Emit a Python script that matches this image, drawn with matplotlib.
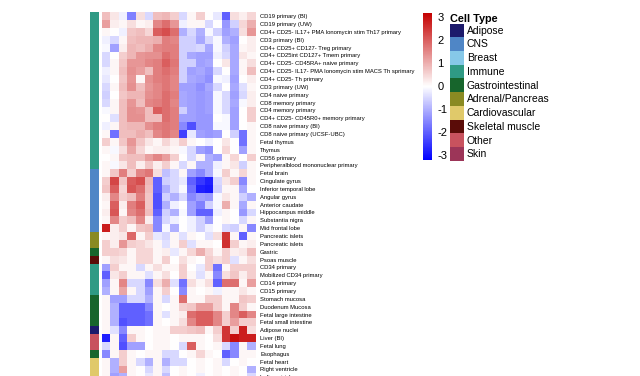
import matplotlib
matplotlib.use("Agg")
import matplotlib.pyplot as plt
import numpy as np
from matplotlib.colors import LinearSegmentedColormap, ListedColormap
from matplotlib.patches import Patch

plt.rcParams["font.family"] = ["Liberation Sans", "DejaVu Sans"]
plt.rcParams["axes.unicode_minus"] = False

row_labels = [
    "CD19 primary (BI)",
    "CD19 primary (UW)",
    "CD4+ CD25- IL17+ PMA Ionomycin stim Th17 primary",
    "CD3 primary (BI)",
    "CD4+ CD25+ CD127- Treg primary",
    "CD4+ CD25int CD127+ Tmem primary",
    "CD4+ CD25- CD45RA+ naive primary",
    "CD4+ CD25- IL17- PMA Ionomycin stim MACS Th sprimary",
    "CD4+ CD25- Th primary",
    "CD3 primary (UW)",
    "CD4 naive primary",
    "CD8 memory primary",
    "CD4 memory primary",
    "CD4+ CD25- CD45R0+ memory primary",
    "CD8 naive primary (BI)",
    "CD8 naive primary (UCSF-UBC)",
    "Fetal thymus",
    "Thymus",
    "CD56 primary",
    "Peripheralblood mononuclear primary",
    "Fetal brain",
    "Cingulate gyrus",
    "Inferior temporal lobe",
    "Angular gyrus",
    "Anterior caudate",
    "Hippocampus middle",
    "Substantia nigra",
    "Mid frontal lobe",
    "Pancreatic islets",
    "Pancreatic islets",
    "Gastric",
    "Psoas muscle",
    "CD34 primary",
    "Mobilized CD34 primary",
    "CD14 primary",
    "CD15 primary",
    "Stomach mucosa",
    "Duodenum Mucosa",
    "Fetal large intestine",
    "Fetal small intestine",
    "Adipose nuclei",
    "Liver (BI)",
    "Fetal lung",
    "Esophagus",
    "Fetal heart",
    "Right ventricle",
    "Left ventricle",
]

type_names = ["Adipose", "CNS", "Breast", "Immune", "Gastrointestinal",
              "Adrenal/Pancreas", "Cardiovascular", "Skeletal muscle", "Other", "Skin"]
type_colors = ["#1c1a6b", "#4f86c6", "#86c8e8", "#2f9a84", "#17652c",
               "#8a8a22", "#e0c96a", "#5a0c08", "#c8525e", "#9c3558"]

# cell type index (into type_names) for every row
row_types = [3] * 20 + [1] * 8 + [5, 5, 4, 7, 3, 3, 3, 3, 4, 4, 4, 4, 0, 8, 8, 4, 6, 6, 6]

values = np.array([
    [0.8, 0.3, -0.2, -1.6, 0.4, -0.5, 0.8, 0.9, 0.6, -0.5, 0.1, 0.6, 0.0, -0.3, -2.0, 0.4, 0.2, 0.5],
    [1.2, 0.2, 0.1, 0.4, 0.1, 0.2, 1.5, 1.8, 1.3, -0.2, 0.1, 0.1, -0.5, 0.0, -1.3, -0.6, 0.5, 1.0],
    [0.1, 0.0, -0.2, 0.7, 0.8, 0.5, 2.0, 2.2, 1.8, -1.0, -0.5, -1.0, -0.1, -0.6, -1.2, -1.0, 0.4, 1.3],
    [-0.2, -0.5, 0.1, 0.8, 0.9, 0.9, 1.0, 1.6, 1.5, -0.6, -0.6, -1.1, -0.5, -0.1, -1.0, -1.2, 0.0, 0.2],
    [-0.1, -1.2, 0.2, 0.9, 0.8, 1.0, 1.5, 1.6, 1.6, -0.6, -0.6, -0.5, -1.1, -0.1, -0.6, -1.1, 0.1, 0.2],
    [-0.5, 0.0, 0.6, 0.9, 1.3, 1.4, 1.4, 1.8, 1.6, -0.6, -1.1, -1.2, -1.2, -0.2, -0.5, -1.1, 0.3, 0.1],
    [-0.5, 0.1, 0.7, 1.3, 1.3, 1.5, 1.6, 2.0, 1.7, -0.6, -0.6, -1.2, -1.1, 0.0, 0.3, -1.1, 0.1, 0.4],
    [-0.2, 0.1, 0.8, 1.4, 1.2, 0.8, 1.6, 1.8, 1.6, -0.6, -1.2, -1.1, -1.3, -0.5, 0.0, -1.1, 0.1, 0.8],
    [-0.3, 0.0, 0.7, 1.3, 0.1, 1.4, 1.6, 1.7, 1.5, -0.6, -1.1, -1.2, -1.4, -0.1, -0.2, -1.2, 0.0, 0.2],
    [-0.5, 0.1, 0.8, 1.4, 0.8, 1.3, 1.5, 1.7, 1.5, -1.2, -1.2, -1.4, -1.1, -0.5, 0.0, -1.1, -0.4, 0.1],
    [-0.6, 0.0, 0.7, 0.9, 0.9, 1.4, 1.5, 1.8, 1.6, -1.1, -1.2, -1.3, -1.2, -0.1, -0.5, -1.2, -0.5, 0.2],
    [-0.5, 0.1, 0.8, 1.3, 0.8, 1.5, 1.6, 1.8, 1.5, -1.1, -1.2, -1.3, -1.2, -0.1, -0.5, -1.1, -0.1, 0.2],
    [-0.1, 0.1, 0.8, 1.4, 1.3, 0.8, 2.0, 1.8, 1.6, -0.6, -1.2, -1.3, -1.2, -0.1, -0.5, -1.2, 0.0, 0.6],
    [0.0, -0.4, 0.8, 1.4, 1.4, 0.8, 0.8, 1.8, 1.6, -1.2, -1.2, -1.3, -1.3, 0.0, -0.1, -1.2, 0.0, 0.6],
    [-0.2, 0.1, 0.8, 0.9, 0.9, 1.4, 1.6, 1.7, 1.6, -1.5, -2.2, -1.3, -1.3, -0.1, -0.1, -1.2, 0.0, 0.1],
    [0.1, -1.8, 0.8, 0.8, 1.0, 0.8, 1.5, 1.7, 1.5, -2.4, -0.3, -1.2, -1.3, -1.2, 0.0, -0.6, -1.8, 0.1],
    [0.6, 0.1, 0.7, 1.3, 0.7, 0.3, 0.1, 0.5, 0.2, 0.6, 0.1, 0.0, -0.2, 0.0, 0.3, 0.0, -1.8, 0.1],
    [0.1, -0.1, 0.4, 1.1, 0.5, 0.1, 0.2, 0.2, 0.1, -0.1, -0.5, -1.2, -1.4, 0.0, 0.5, 0.0, -1.2, 0.1],
    [0.0, 0.1, 0.7, 0.8, 0.8, 1.2, 1.5, 1.2, 0.6, 0.0, -0.5, 0.1, -1.0, -1.2, 0.1, 0.5, 0.0, 0.6],
    [0.1, -0.1, 0.3, 0.8, 0.2, 0.7, 0.2, 0.6, 0.1, -0.5, 0.1, -1.0, -1.0, -0.2, 0.1, 0.3, -0.6, 0.1],
    [0.1, 0.7, 1.6, 0.6, 1.5, 1.7, 0.4, -0.8, -0.5, 0.1, -1.2, -1.5, -1.0, -0.1, 0.6, 0.1, 0.5, 0.1],
    [0.6, 2.3, 0.7, 2.0, 2.2, 0.9, -2.0, -0.6, -0.5, -0.3, -2.0, -2.5, -2.8, -0.5, 0.3, 0.6, -1.5, 0.1],
    [0.7, 2.0, 0.5, 2.1, 1.8, 0.8, -2.0, -1.0, -0.5, -0.1, -1.8, -2.8, -2.9, -0.6, 0.1, 0.1, -1.1, 0.0],
    [0.2, 1.5, 0.6, 0.8, 1.6, 0.7, -2.2, -0.6, -1.0, -0.5, -1.5, -1.2, -1.3, -0.1, 0.3, 0.1, -0.6, -1.0],
    [0.1, 2.0, 0.2, 1.6, 2.0, 0.7, -2.2, -1.0, -0.2, 0.0, -1.2, -1.6, -0.6, -0.1, 1.0, 0.1, -1.1, 0.1],
    [0.2, 2.1, 0.1, 1.5, 1.8, 0.8, -2.0, -0.6, -1.0, -0.1, -1.2, -2.0, -2.0, -0.2, 0.1, 0.0, -1.3, -0.5],
    [0.1, 1.5, 0.6, 0.8, 1.5, 0.2, -1.5, -0.5, -0.2, 0.0, -0.2, -0.6, -1.2, 0.0, 0.1, 0.0, -0.5, 0.1],
    [2.8, 0.2, 0.6, 0.1, 0.7, 0.8, -1.5, -0.1, -1.0, 0.0, -0.2, -0.6, -0.2, 0.0, -0.5, -0.6, 0.1, -1.5],
    [0.1, 0.2, 0.3, 1.9, 0.1, 0.6, -0.3, -0.5, 0.1, -0.4, 0.1, 0.0, -0.4, 0.4, 2.5, 0.1, -2.0, 0.1],
    [0.6, 0.2, 1.3, 0.6, 0.5, 0.3, 0.1, -0.4, 0.1, 0.6, -0.4, 0.1, 0.1, 0.0, 2.6, 0.6, 0.1, 0.2],
    [0.6, 0.6, 0.5, 0.1, 0.5, 0.5, 0.1, 0.2, -0.3, 0.1, 0.5, 1.0, 0.5, 0.1, 0.6, 0.2, 0.3, 0.8],
    [0.1, 0.4, 0.3, 0.1, 0.5, 0.5, 0.1, 0.6, 0.0, 0.4, 0.1, 0.0, 0.6, 0.4, 0.6, -0.4, 0.1, 0.4],
    [-1.2, 0.6, 0.1, 0.1, -0.5, 0.1, 0.4, 0.1, 0.1, 0.6, 0.0, -0.3, 0.6, -1.8, 0.1, 0.6, 0.6, 0.6],
    [-2.0, 0.3, 0.6, 0.1, 0.1, -0.4, 0.1, 0.4, 0.0, 0.6, 0.1, -0.4, 0.1, -1.5, 0.4, 0.7, 0.2, 0.6],
    [-1.2, 0.1, 1.5, -0.5, -0.5, -1.5, 0.4, 1.0, -0.4, -1.8, 0.4, 0.1, 0.4, -2.0, 1.8, 1.8, 0.1, 1.2],
    [-1.0, 0.1, 1.1, 0.1, -0.5, -1.2, 0.1, 0.6, 0.0, -1.5, 0.1, 0.0, 0.1, -0.2, 0.1, 0.1, 0.3, 0.1],
    [0.1, -1.2, -1.2, -0.5, -0.5, -1.0, 0.1, -0.5, 0.1, 1.8, 0.1, 0.1, 0.6, 0.6, 0.1, 0.1, 0.7, 0.6],
    [0.1, -1.0, -2.0, -2.0, -2.0, -1.5, 0.1, 0.0, 0.1, 0.6, 0.7, 1.2, 1.2, 0.6, 0.1, 1.5, 0.6, 0.1],
    [0.1, -1.0, -2.0, -2.0, -2.0, -1.8, 0.1, -0.4, 0.1, 0.2, 1.8, 2.0, 2.0, 1.5, 0.6, 1.5, 2.0, 1.5],
    [0.1, -1.0, -2.2, -2.0, -2.0, -1.8, 0.1, 0.0, 0.1, 0.4, 1.5, 2.0, 2.0, 1.5, 0.6, 1.2, 0.6, 0.6],
    [0.1, -0.4, -1.5, 0.1, 0.1, 0.0, 0.1, 0.1, 0.6, 0.6, 0.7, 0.8, 0.1, 0.6, 2.5, 0.6, 2.8, 0.4],
    [-2.8, 0.1, -2.0, 0.6, 0.1, 0.0, 0.1, 0.1, 0.0, 0.1, 0.1, 0.1, 0.0, 0.4, 2.5, 3.0, 2.8, 2.8],
    [-0.5, 0.1, -2.2, -1.2, -1.2, 0.0, 0.1, 0.1, 0.0, -0.5, 2.0, 0.1, 0.0, 0.1, -0.5, -1.5, 0.1, -1.0],
    [-1.5, 0.1, 0.6, 0.1, 0.0, 0.1, 0.1, -0.5, -0.5, 0.0, 0.1, 0.5, 0.1, 0.0, -2.0, -1.5, 0.1, 0.1],
    [0.1, -1.0, 0.6, 0.1, -0.5, -1.0, 0.1, -1.0, -0.5, -0.5, 0.0, 0.1, 0.0, 0.1, -0.5, 0.0, 0.1, 0.0],
    [0.1, -1.0, 1.2, 0.1, 0.0, -0.5, 0.1, -0.5, 0.0, 0.1, 0.0, 0.1, 0.0, 0.1, 0.0, 0.1, 0.0, -1.0],
    [0.1, -1.2, -1.0, 0.1, 0.0, -0.3, 0.1, -0.8, 0.0, 0.1, 0.0, -0.2, 0.0, 0.1, 0.0, 0.1, 0.0, -0.5],
])

W, H = 640, 376


def box(x0, y0, x1, y1):
    # pixel box (top-left origin) -> figure fraction rect
    return [x0 / W, 1 - y1 / H, (x1 - x0) / W, (y1 - y0) / H]


n_rows = len(row_labels)
top = 12.3
bottom = top + n_rows * 7.85

cmap = LinearSegmentedColormap.from_list("bwr_dark", ["#0000ff", "#ffffff", "#c40000"])

fig = plt.figure(figsize=(6.4, 3.76), dpi=100)

ax = fig.add_axes(box(101.7, top, 256, bottom))
mesh = ax.pcolormesh(values, cmap=cmap, vmin=-3.2, vmax=3.2)
ax.set_ylim(n_rows, 0)
ax.set_xticks([])
ax.set_yticks(np.arange(n_rows) + 0.5, labels=row_labels, fontsize=4.2)
ax.yaxis.tick_right()
ax.tick_params(axis="y", length=0, pad=3)
for s in ax.spines.values():
    s.set_visible(False)

ax_ct = fig.add_axes(box(90, top, 99, bottom))
ax_ct.pcolormesh(np.array(row_types)[:, None], cmap=ListedColormap(type_colors),
                 vmin=-0.5, vmax=len(type_colors) - 0.5)
ax_ct.set_ylim(n_rows, 0)
ax_ct.axis("off")

cax = fig.add_axes(box(422.7, 12.7, 431.7, 160))
cb = fig.colorbar(mesh, cax=cax, ticks=[-3, -2, -1, 0, 1, 2, 3])
cb.outline.set_visible(False)
cax.tick_params(length=0, labelsize=8, pad=4)

handles = [Patch(facecolor=c) for c in type_colors]
fig.legend(handles, type_names, title="Cell Type", loc="upper left",
           bbox_to_anchor=(450 / W, 1 - 13.5 / H), frameon=False, fontsize=7.5,
           title_fontproperties={"weight": "bold", "size": 7.8},
           handlelength=1.3, handleheight=1.65, labelspacing=0,
           handletextpad=0.3, borderaxespad=0, borderpad=0, alignment="left")

fig.savefig("out.png", dpi=100)
